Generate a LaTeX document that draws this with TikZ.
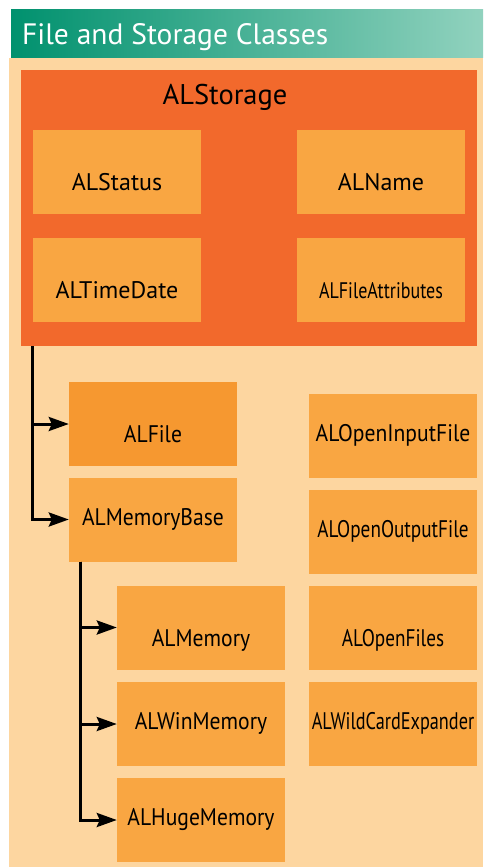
\documentclass[tikz,border=0pt]{standalone}
\usepackage{fontspec}
\setmainfont{PT Sans}
\newfontfamily\condfont[FakeStretch=0.9]{PT Sans}
\newfontfamily\narrowfont[FakeStretch=0.8]{PT Sans}
\newfontfamily\slimfont[FakeStretch=0.76]{PT Sans}
\usepackage{tikz}
\usetikzlibrary{arrows.meta}
\definecolor{cream}{RGB}{253,214,160}
\definecolor{storagered}{RGB}{242,105,44}
\definecolor{boxorange}{RGB}{249,166,66}
\definecolor{fileorange}{RGB}{246,152,48}
\definecolor{headdark}{RGB}{0,145,110}
\definecolor{headlight}{RGB}{145,210,190}
\tikzset{arrow/.style={line width=3pt, arrows={-Stealth[length=20pt, width=14pt, inset=3pt]}}}
\tikzstyle{cls} = [rectangle, fill=boxorange, inner sep=0pt, minimum width=168pt, minimum height=84pt, font=\condfont\fontsize{24}{28}\selectfont, text height=14pt, text depth=3pt]
\tikzstyle{cls_low} = [cls, text height=40pt, text depth=3pt]
\tikzstyle{wide} = [font=\fontsize{24}{28}\selectfont]
\tikzstyle{narrow} = [font=\narrowfont\fontsize{24}{28}\selectfont]

\begin{document}
\begin{tikzpicture}[x=1pt, y=-1pt]
        \useasboundingbox (0,0) rectangle (483,867);
        \shade[left color=headdark, right color=headlight] (11,10) rectangle (483,58);
        \fill[cream] (9,58) rectangle (483,867);
        \node (heading) [anchor=base west, text=white, font=\fontsize{29.5}{32}\selectfont, inner sep=0pt] at (22,45) {File and Storage Classes};

        \node (storage) [rectangle, fill=storagered, inner sep=0pt, minimum width=456pt, minimum height=276pt] at (249,208) {};
        \node (storage_name) [font=\fontsize{28.5}{32}\selectfont, inner sep=0pt] at (225,97) {ALStorage};
        \node (status) [cls_low, wide] at (117,172) {ALStatus};
        \node (name) [cls_low, wide] at (381,172) {ALName};
        \node (timedate) [cls_low, wide, below of=status, node distance=108pt] {ALTimeDate};
        \node (fileattr) [cls_low, below of=name, node distance=108pt, font=\narrowfont\fontsize{22.5}{26}\selectfont] {ALFileAttributes};

        \node (alfile) [cls_low, fill=fileorange] at (153,424) {ALFile};
        \node (membase) [cls] at (153,519.5) {ALMemoryBase};
        \node (memory) [cls_low] at (201,627.5) {ALMemory};
        \node (winmemory) [cls, below of=memory, node distance=96.5pt] {ALWinMemory};
        \node (hugememory) [cls, below of=winmemory, node distance=96pt] {ALHugeMemory};

        \node (openinput) [cls] at (393,436) {ALOpenInputFile};
        \node (openoutput) [cls, narrow, below of=openinput, node distance=95.5pt] {ALOpenOutputFile};
        \node (openfiles) [cls_low, narrow, below of=openoutput, node distance=96pt] {ALOpenFiles};
        \node (wildcard) [cls, below of=openfiles, node distance=96.5pt, font=\slimfont\fontsize{24}{28}\selectfont] {ALWildCardExpander};

        \draw [arrow] ([xshift=12pt]storage.south west) |- (alfile.west);
        \draw [arrow] ([xshift=12pt]storage.south west) |- (membase.west);
        \draw [arrow] ([xshift=12pt]membase.south west) |- (memory.west);
        \draw [arrow] ([xshift=12pt]membase.south west) |- (winmemory.west);
        \draw [arrow] ([xshift=12pt]membase.south west) |- (hugememory.west);
\end{tikzpicture}
\end{document}
